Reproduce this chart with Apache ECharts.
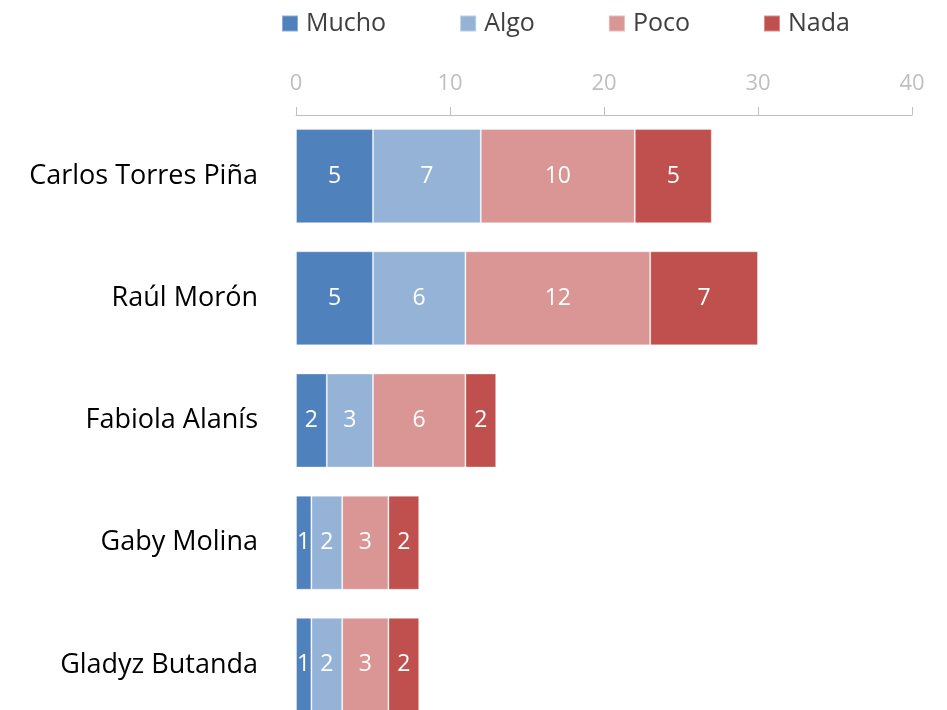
<!DOCTYPE html>
<html>
<head>
<meta charset="utf-8">
<script src="https://cdn.jsdelivr.net/npm/echarts@6/dist/echarts.min.js"></script>
<style>
  html, body { margin: 0; padding: 0; background: #fff; overflow: hidden; }
  #main { width: 947px; height: 726px; }
</style>
</head>
<body>
<div id="main"></div>
<script>
var categories = ['Carlos Torres Piña', 'Raúl Morón', 'Fabiola Alanís', 'Gaby Molina', 'Gladyz Butanda'];
var mucho = [5, 5, 2, 1, 1];
var algo = [7, 6, 3, 2, 2];
var poco = [10, 12, 6, 3, 3];
var nada = [5, 7, 2, 2, 2];
var xTicks = [0, 10, 20, 30, 40];

var fontFam = '"Open Sans", "Noto Sans", sans-serif';

function mkSeries(name, data, color) {
  return {
    name: name,
    type: 'bar',
    stack: 'total',
    data: data,
    barCategoryGap: '23%',
    itemStyle: { color: color, borderColor: 'rgba(255,255,255,0.35)', borderWidth: 1 },
    label: {
      show: true,
      position: 'inside',
      color: '#fff',
      fontSize: 23,
      fontFamily: fontFam
    }
  };
}

// container is 726 tall so the last bar runs off the bottom like the original
var chart = echarts.init(document.getElementById('main'));
chart.setOption({
  animation: false,
  textStyle: { fontFamily: fontFam },
  legend: {
    top: 6,
    left: 276,
    itemWidth: 16,
    itemHeight: 16,
    itemGap: 73,
    icon: 'rect',
    textStyle: { fontSize: 25, color: '#404040', fontFamily: fontFam, padding: [0, 0, 0, 3] },
    data: ['Mucho', 'Algo', 'Poco', 'Nada']
  },
  grid: { left: 296, right: 35, top: 115, bottom: 0 },
  xAxis: {
    type: 'value',
    position: 'top',
    min: xTicks[0],
    max: xTicks[xTicks.length - 1],
    interval: 10,
    splitLine: { show: false },
    axisLine: { show: true, lineStyle: { color: '#BFBFBF' } },
    axisTick: { show: true, length: 8, lineStyle: { color: '#BFBFBF' } },
    axisLabel: { color: '#BFBFBF', fontSize: 22, margin: 20, fontFamily: fontFam }
  },
  yAxis: {
    type: 'category',
    inverse: true,
    data: categories,
    axisLine: { show: false },
    axisTick: { show: false },
    axisLabel: { color: '#000', fontSize: 27, margin: 38, fontFamily: fontFam }
  },
  series: [
    mkSeries('Mucho', mucho, '#4F81BD'),
    mkSeries('Algo', algo, '#95B3D7'),
    mkSeries('Poco', poco, '#D99694'),
    mkSeries('Nada', nada, '#C0504D')
  ]
});
</script>
</body>
</html>
